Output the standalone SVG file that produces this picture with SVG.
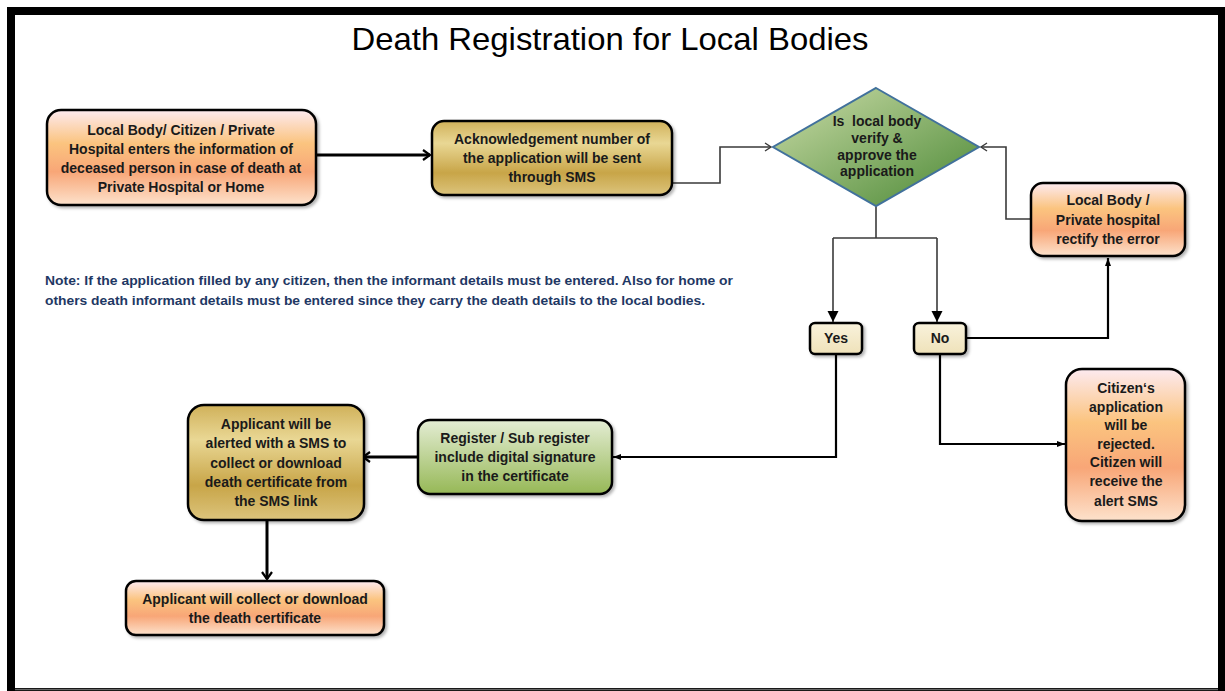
<svg xmlns="http://www.w3.org/2000/svg" width="1225" height="691" viewBox="0 0 1225 691">
<style>
.box{stroke:#000;stroke-width:2.5;}
.t{font-family:"Liberation Sans",Arial,sans-serif;font-weight:bold;font-size:14px;fill:#1a1a1a;text-anchor:middle;}
.note{font-family:"Liberation Sans",Arial,sans-serif;font-weight:bold;font-size:12.5px;fill:#1f3864;}
.thick{fill:none;stroke:#000;stroke-width:3;}
.thin{fill:none;stroke:#3a3a3a;stroke-width:1.6;}
.mid{fill:none;stroke:#000;stroke-width:2.2;}
</style>
<defs>
<linearGradient id="gOr" x1="0" y1="0" x2="0" y2="1">
<stop offset="0" stop-color="#fdeaf0"/><stop offset="0.35" stop-color="#fbc47f"/><stop offset="0.65" stop-color="#f8a677"/><stop offset="1" stop-color="#fde2cc"/>
</linearGradient>
<linearGradient id="gGold" x1="0" y1="0" x2="0" y2="1">
<stop offset="0" stop-color="#d0b15a"/><stop offset="0.3" stop-color="#e9d794"/><stop offset="0.7" stop-color="#c8a548"/><stop offset="1" stop-color="#dcc47c"/>
</linearGradient>
<linearGradient id="gGreen" x1="0" y1="0" x2="0" y2="1">
<stop offset="0" stop-color="#e4edd4"/><stop offset="1" stop-color="#96b856"/>
</linearGradient>
<linearGradient id="gDia" x1="0" y1="0" x2="1" y2="1">
<stop offset="0" stop-color="#cbdca8"/><stop offset="1" stop-color="#4a8834"/>
</linearGradient>
<linearGradient id="gCream" x1="0" y1="0" x2="0" y2="1">
<stop offset="0" stop-color="#f9f2dc"/><stop offset="1" stop-color="#efe2b9"/>
</linearGradient>
<filter id="sh" x="-10%" y="-10%" width="130%" height="130%">
<feDropShadow dx="2" dy="2" stdDeviation="1.5" flood-color="#000" flood-opacity="0.3"/>
</filter>
<marker id="chev" markerUnits="userSpaceOnUse" markerWidth="14" markerHeight="14" refX="11" refY="7" orient="auto">
<path d="M4,2 L11,7 L4,12" fill="none" stroke="#000" stroke-width="2.2"/>
</marker>
<marker id="chevThin" markerUnits="userSpaceOnUse" markerWidth="14" markerHeight="14" refX="11" refY="7" orient="auto">
<path d="M5,3 L11,7 L5,11" fill="none" stroke="#3a3a3a" stroke-width="1.4"/>
</marker>
<marker id="tri" markerUnits="userSpaceOnUse" markerWidth="14" markerHeight="14" refX="12" refY="7" orient="auto">
<path d="M1,1.5 L12,7 L1,12.5 Z" fill="#000"/>
</marker>
<marker id="triS" markerUnits="userSpaceOnUse" markerWidth="10" markerHeight="10" refX="9" refY="5" orient="auto">
<path d="M1,2 L9,5 L1,8 Z" fill="#000"/>
</marker>
</defs>

<rect x="7" y="7" width="1218" height="684" fill="#000"/>
<rect x="15" y="15" width="1203" height="673" fill="#fff"/>
<line x1="15" y1="689.5" x2="1218" y2="689.5" stroke="#666" stroke-width="1.5"/>

<text x="610" y="50" font-family="Liberation Sans,Arial,sans-serif" font-size="32" fill="#000" text-anchor="middle" textLength="517" lengthAdjust="spacingAndGlyphs">Death Registration for Local Bodies</text>

<g id="connectors">
<path class="thick" d="M316,155 L430,155" marker-end="url(#chev)"/>
<path class="thin" d="M672,183 L720,183 L720,147 L771,147" marker-end="url(#chevThin)"/>
<path class="thin" d="M1031,219 L1006,219 L1006,147 L981,147" marker-end="url(#chevThin)"/>
<path class="thin" d="M876,206 L876,238"/>
<path class="thin" d="M833,238 L937,238"/>
<path class="thin" d="M833,238 L833,322" marker-end="url(#tri)"/>
<path class="thin" d="M937,238 L937,322" marker-end="url(#tri)"/>
<path class="mid" d="M966,338 L1108,338 L1108,258" marker-end="url(#triS)"/>
<path class="mid" d="M940,354 L940,444 L1065,444" marker-end="url(#triS)"/>
<path class="mid" d="M836,354 L836,457 L613,457" marker-end="url(#triS)"/>
<path class="thick" d="M418,457 L363,457" marker-end="url(#chev)"/>
<path class="thick" d="M267,520 L267,579" marker-end="url(#chev)"/>
</g>

<g id="n1">
<rect class="box" x="47" y="110" width="269" height="95" rx="14" fill="url(#gOr)" filter="url(#sh)"/>
<text class="t" x="181" y="135">Local Body/ Citizen / Private</text>
<text class="t" x="181" y="154">Hospital enters the information of</text>
<text class="t" x="181" y="173">deceased person in case of death at</text>
<text class="t" x="181" y="192">Private Hospital or Home</text>
</g>

<g id="n2">
<rect class="box" x="432" y="121" width="240" height="74" rx="12" fill="url(#gGold)" filter="url(#sh)"/>
<text class="t" x="552" y="144">Acknowledgement number of</text>
<text class="t" x="552" y="163">the application will be sent</text>
<text class="t" x="552" y="182">through SMS</text>
</g>

<g id="decision">
<path d="M876,88 L979,147 L876,206 L773,147 Z" fill="url(#gDia)" stroke="#41719c" stroke-width="2"/>
<text class="t" x="877" y="126" font-size="12.5" style="white-space:pre">Is  local body</text>
<text class="t" x="877" y="143" font-size="12.5">verify &amp;</text>
<text class="t" x="877" y="160" font-size="12.5">approve the</text>
<text class="t" x="877" y="176" font-size="12.5">application</text>
</g>

<g id="rectify">
<rect class="box" x="1031" y="183" width="154" height="73" rx="12" fill="url(#gOr)" filter="url(#sh)"/>
<text class="t" x="1108" y="205">Local Body /</text>
<text class="t" x="1108" y="225">Private hospital</text>
<text class="t" x="1108" y="244">rectify the error</text>
</g>

<g id="yes">
<rect class="box" x="810" y="323" width="52" height="31" rx="5" fill="url(#gCream)" filter="url(#sh)"/>
<text class="t" x="836" y="343">Yes</text>
</g>

<g id="no">
<rect class="box" x="914" y="323" width="52" height="31" rx="5" fill="url(#gCream)" filter="url(#sh)"/>
<text class="t" x="940" y="343">No</text>
</g>

<g id="rejected">
<rect class="box" x="1066" y="369" width="119" height="152" rx="16" fill="url(#gOr)" filter="url(#sh)"/>
<text class="t" x="1126" y="393">Citizen‘s</text>
<text class="t" x="1126" y="412">application</text>
<text class="t" x="1126" y="430">will be</text>
<text class="t" x="1126" y="449">rejected.</text>
<text class="t" x="1126" y="467">Citizen will</text>
<text class="t" x="1126" y="486">receive the</text>
<text class="t" x="1126" y="506">alert SMS</text>
</g>

<g id="register">
<rect class="box" x="418" y="420" width="194" height="74" rx="12" fill="url(#gGreen)" filter="url(#sh)"/>
<text class="t" x="515" y="443">Register / Sub register</text>
<text class="t" x="515" y="462">include digital signature</text>
<text class="t" x="515" y="481">in the certificate</text>
</g>

<g id="alert">
<rect class="box" x="188" y="405" width="176" height="115" rx="16" fill="url(#gGold)" filter="url(#sh)"/>
<text class="t" x="276" y="429">Applicant will be</text>
<text class="t" x="276" y="448">alerted with a SMS to</text>
<text class="t" x="276" y="468">collect or download</text>
<text class="t" x="276" y="487">death certificate from</text>
<text class="t" x="276" y="506">the SMS link</text>
</g>

<g id="collect">
<rect class="box" x="126" y="581" width="258" height="54" rx="10" fill="url(#gOr)" filter="url(#sh)"/>
<text class="t" x="255" y="604">Applicant will collect or download</text>
<text class="t" x="255" y="623">the death certificate</text>
</g>

<g id="note">
<text class="note" x="45" y="285" textLength="688" lengthAdjust="spacingAndGlyphs">Note: If the application filled by any citizen, then the informant details must be entered. Also for home or</text>
<text class="note" x="45" y="305" textLength="660" lengthAdjust="spacingAndGlyphs">others death informant details must be entered since they carry the death details to the local bodies.</text>
</g>
</svg>
